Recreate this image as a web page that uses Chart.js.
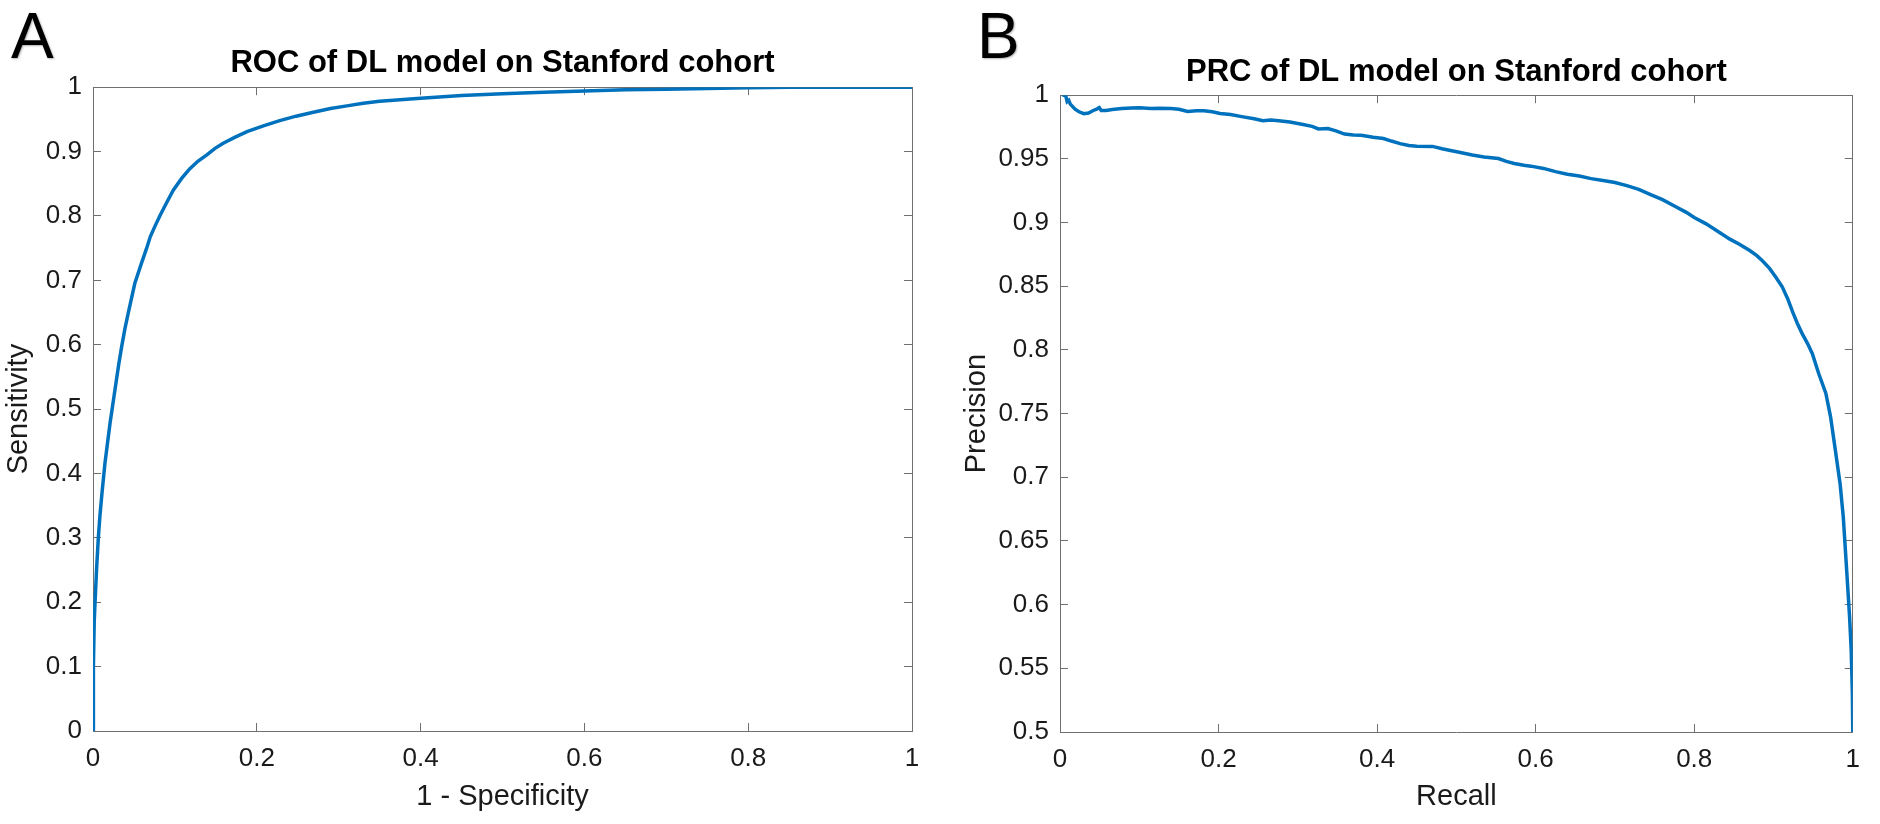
<!DOCTYPE html>
<html>
<head>
<meta charset="utf-8">
<title>ROC and PRC of DL model on Stanford cohort</title>
<script src="https://cdn.jsdelivr.net/npm/chart.js@4.4.1/dist/chart.umd.min.js"></script>
<style>
  html, body { margin: 0; padding: 0; background: #fff; }
  #page { position: relative; width: 1880px; height: 824px; overflow: hidden; }
  .panel { position: absolute; top: 0; width: 940px; height: 824px; }
  .letter {
    position: absolute; top: 4px;
    font: 64px/64px "Liberation Sans", Arial, sans-serif;
    color: #000;
    text-shadow: 1px 1px 2px rgba(0, 0, 0, 0.3);
  }
</style>
</head>
<body>
<div id="page">
  <canvas id="rocChart" class="panel" width="940" height="824" style="left:0"></canvas>
  <canvas id="prcChart" class="panel" width="940" height="824" style="left:940px"></canvas>
  <div class="letter" style="left:11px">A</div>
  <div class="letter" style="left:977px">B</div>
</div>
<script>
// --- DATA ---

// Panel A: ROC curve
const rocFpr = [0, 0.0005, 0.0015, 0.0025, 0.0045, 0.0065, 0.0085, 0.011, 0.0145, 0.018, 0.021, 0.0245,
  0.028, 0.0315, 0.035, 0.039, 0.043, 0.047, 0.051, 0.059, 0.065, 0.070, 0.076, 0.082, 0.090, 0.098,
  0.108, 0.118, 0.128, 0.139, 0.149, 0.159, 0.173, 0.188, 0.208, 0.228, 0.248, 0.269, 0.290, 0.310,
  0.330, 0.350, 0.400, 0.450, 0.500, 0.550, 0.600, 0.650, 0.700, 0.750, 0.800, 0.850, 0.900, 1.000];
const rocTpr = [0, 0.10, 0.17, 0.20, 0.255, 0.30, 0.335, 0.37, 0.415, 0.45, 0.48, 0.51,
  0.54, 0.57, 0.597, 0.625, 0.649, 0.672, 0.695, 0.726, 0.748, 0.768, 0.785, 0.801, 0.821, 0.840,
  0.858, 0.873, 0.885, 0.895, 0.905, 0.913, 0.922, 0.931, 0.940, 0.948, 0.955, 0.961, 0.967, 0.971,
  0.975, 0.978, 0.983, 0.987, 0.990, 0.992, 0.994, 0.996, 0.997, 0.998, 0.999, 1.000, 1.000, 1.000];
const rocXLabels = ['0', '0.2', '0.4', '0.6', '0.8', '1'];
const rocYLabels = ['0', '0.1', '0.2', '0.3', '0.4', '0.5', '0.6', '0.7', '0.8', '0.9', '1'];

// Panel B: precision-recall curve
const prcRecall = [0.003, 0.007, 0.009, 0.011, 0.013, 0.016, 0.019, 0.024, 0.030, 0.036, 0.042, 0.047,
  0.0495, 0.052, 0.058, 0.066, 0.078, 0.090, 0.100, 0.115, 0.125, 0.140, 0.150, 0.161, 0.172, 0.1815,
  0.192, 0.202, 0.215, 0.231, 0.245, 0.256, 0.266, 0.276, 0.290, 0.305, 0.318, 0.326, 0.338, 0.348,
  0.359, 0.370, 0.380, 0.395, 0.408, 0.418, 0.429, 0.440, 0.450, 0.470, 0.482, 0.491, 0.505, 0.520,
  0.535, 0.553, 0.563, 0.573, 0.585, 0.594, 0.610, 0.625, 0.640, 0.655, 0.670, 0.685, 0.700, 0.715,
  0.730, 0.745, 0.760, 0.775, 0.790, 0.800, 0.815, 0.830, 0.845, 0.857, 0.870, 0.879, 0.886, 0.895,
  0.903, 0.911, 0.918, 0.924, 0.930, 0.936, 0.943, 0.949, 0.957, 0.966, 0.972, 0.978, 0.984, 0.988,
  0.992, 0.996, 0.998, 0.9995, 1.000];
const prcPrecision = [1.000, 1.000, 0.995, 0.996, 0.993, 0.991, 0.989, 0.987, 0.9855, 0.986, 0.988, 0.9893,
  0.9903, 0.988, 0.988, 0.9888, 0.9895, 0.990, 0.9902, 0.9895, 0.9898, 0.9895, 0.989, 0.9872, 0.9878, 0.9877,
  0.987, 0.9856, 0.9848, 0.983, 0.9815, 0.980, 0.9805, 0.980, 0.979, 0.9772, 0.9755, 0.9735, 0.9738, 0.972,
  0.9695, 0.9688, 0.9686, 0.967, 0.966, 0.964, 0.962, 0.9605, 0.960, 0.9598, 0.958, 0.9568, 0.955, 0.953,
  0.9515, 0.9503, 0.948, 0.9464, 0.945, 0.9443, 0.9425, 0.940, 0.938, 0.9365, 0.9345, 0.933, 0.9315, 0.929,
  0.926, 0.922, 0.918, 0.913, 0.908, 0.904, 0.899, 0.893, 0.887, 0.883, 0.878, 0.874, 0.870, 0.864,
  0.857, 0.8495, 0.840, 0.830, 0.821, 0.813, 0.805, 0.797, 0.7815, 0.766, 0.7475, 0.7214, 0.695, 0.669,
  0.630, 0.590, 0.5644, 0.530, 0.500];
const prcXLabels = ['0', '0.2', '0.4', '0.6', '0.8', '1'];
const prcYLabels = ['0.5', '0.55', '0.6', '0.65', '0.7', '0.75', '0.8', '0.85', '0.9', '0.95', '1'];

// --- STYLE ---
const FONT = '"Liberation Sans", Arial, Helvetica, sans-serif';
const AXIS_COLOR = '#6f6f6f';
const TEXT_COLOR = '#1a1a1a';
const LINE_COLOR = '#0072BD';

Chart.defaults.font.family = FONT;
Chart.defaults.animation = false;

/**
 * Builds one MATLAB-like axis: inward tick marks, box border, fixed size.
 */
function buildAxis({ position, labels, size, showLabels, padding, title }) {
    const horizontal = position === 'top' || position === 'bottom';
    const values = labels.map(parseFloat);
    return {
        type: 'linear',
        position,
        min: values[0],
        max: values[values.length - 1],
        afterBuildTicks: (scale) => { scale.ticks = values.map(v => ({ value: v })); },
        afterFit: (scale) => {
            if (horizontal) scale.height = size; else scale.width = size;
        },
        grid: { drawOnChartArea: false, drawTicks: true, tickLength: -8, color: AXIS_COLOR, lineWidth: 1 },
        border: { display: true, color: AXIS_COLOR, width: 1 },
        ticks: {
            display: showLabels,
            padding: padding || 0,
            color: TEXT_COLOR,
            font: { family: FONT, size: 26 },
            maxRotation: 0,
            autoSkip: false,
            callback: (value, index) => labels[index]
        },
        title: title
            ? { display: true, text: title.text, color: TEXT_COLOR, font: { family: FONT, size: 29 }, padding: title.padding }
            : { display: false }
    };
}

/**
 * Creates one panel (a single line curve in a boxed axes).
 */
function makePanel(canvasId, cfg) {
    const ctx = document.getElementById(canvasId).getContext('2d');
    const points = cfg.xs.map((x, i) => ({ x, y: cfg.ys[i] }));
    return new Chart(ctx, {
        type: 'line',
        data: {
            datasets: [{
                label: cfg.title,
                data: points,
                borderColor: LINE_COLOR,
                borderWidth: 3.5,
                pointRadius: 0,
                tension: 0,
                fill: false,
                xAxisID: 'x',
                yAxisID: 'y'
            }]
        },
        options: {
            responsive: false,
            devicePixelRatio: 1,
            layout: { padding: cfg.padding },
            plugins: {
                legend: { display: false },
                tooltip: { enabled: false },
                title: {
                    display: true,
                    text: cfg.title,
                    fullSize: false,
                    color: '#000',
                    font: { family: FONT, size: 31, weight: 'bold', lineHeight: 1.2 },
                    padding: { top: 0, bottom: cfg.titleGap }
                }
            },
            scales: {
                x: buildAxis({ position: 'bottom', labels: cfg.xLabels, size: cfg.xAxisHeight, showLabels: true, padding: 20,
                    title: { text: cfg.xTitle, padding: { top: 0, bottom: 10 } } }),
                y: buildAxis({ position: 'left', labels: cfg.yLabels, size: cfg.yAxisWidth, showLabels: true, padding: 19,
                    title: { text: cfg.yTitle, padding: { top: cfg.yTitlePad, bottom: 0 } } }),
                x2: buildAxis({ position: 'top', labels: cfg.xLabels, size: 0, showLabels: false }),
                y2: buildAxis({ position: 'right', labels: cfg.yLabels, size: 0, showLabels: false })
            }
        }
    });
}

makePanel('rocChart', {
    title: 'ROC of DL model on Stanford cohort',
    xs: rocFpr, ys: rocTpr,
    xLabels: rocXLabels, yLabels: rocYLabels,
    xTitle: '1 - Specificity', yTitle: 'Sensitivity',
    padding: { top: 45, left: 0, right: 28, bottom: 0 },
    titleGap: 5, xAxisHeight: 93, yAxisWidth: 93, yTitlePad: 2
});

makePanel('prcChart', {
    title: 'PRC of DL model on Stanford cohort',
    xs: prcRecall, ys: prcPrecision,
    xLabels: prcXLabels, yLabels: prcYLabels,
    xTitle: 'Recall', yTitle: 'Precision',
    padding: { top: 54, left: 0, right: 12, bottom: 0 },
    titleGap: 4, xAxisHeight: 92, yAxisWidth: 120, yTitlePad: 20
});
</script>
</body>
</html>
